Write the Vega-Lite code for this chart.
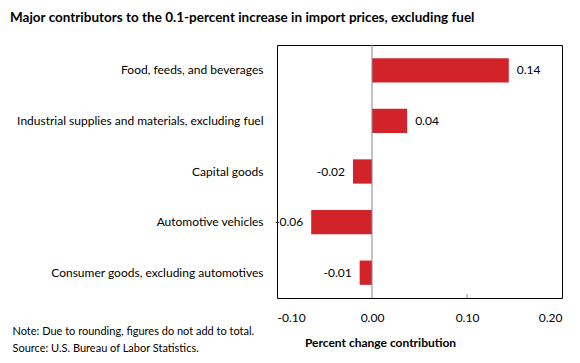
{
  "$schema": "https://vega.github.io/schema/vega-lite/v6.json",
  "width": 285,
  "height": 253,
  "autosize": "none",
  "padding": {"left": 277, "top": 45, "right": 18, "bottom": 65},
  "background": "white",
  "config": {
    "font": "Lato",
    "view": {"stroke": "black", "strokeWidth": 1},
    "locale": {
      "number": {"decimal": ".", "thousands": ",", "grouping": [3], "currency": ["$", ""], "minus": "-"}
    }
  },
  "title": {
    "text": "Major contributors to the 0.1-percent increase in import prices, excluding fuel",
    "anchor": "start",
    "frame": "group",
    "dx": -267,
    "offset": 20,
    "fontSize": 13.5,
    "fontWeight": "bold",
    "font": "Lato",
    "color": "black"
  },
  "data": {
    "values": [
      {"category": "Food, feeds, and beverages", "value": 0.144},
      {"category": "Industrial supplies and materials, excluding fuel", "value": 0.037},
      {"category": "Capital goods", "value": -0.02},
      {"category": "Automotive vehicles", "value": -0.064},
      {"category": "Consumer goods, excluding automotives", "value": -0.013}
    ]
  },
  "encoding": {
    "y": {
      "field": "category",
      "type": "nominal",
      "sort": null,
      "scale": {"paddingInner": 0.52, "paddingOuter": 0.26},
      "axis": {
        "domain": false,
        "ticks": false,
        "labelPadding": 14,
        "labelFontSize": 12,
        "labelColor": "black",
        "labelLimit": 300,
        "title": ["Note: Due to rounding, figures do not add to total.", "Source: U.S. Bureau of Labor Statistics."],
        "titleAngle": 0,
        "titleAlign": "left",
        "titleBaseline": "middle",
        "titleX": -265,
        "titleY": 286,
        "titleFontSize": 11,
        "titleFontWeight": "normal",
        "titleLineHeight": 17,
        "titleColor": "black"
      }
    }
  },
  "layer": [
    {
      "mark": {"type": "bar", "color": "#D2232A"},
      "encoding": {
        "x": {
          "field": "value",
          "type": "quantitative",
          "scale": {"domain": [-0.1, 0.2], "nice": false, "zero": false},
          "axis": {
            "values": [-0.1, 0, 0.1, 0.2],
            "format": ".2f",
            "grid": false,
            "domain": false,
            "ticks": false,
            "labelPadding": 14,
            "labelFontSize": 12,
            "labelColor": "black",
            "title": "Percent change contribution",
            "titleFontSize": 12,
            "titleFontWeight": "bold",
            "titleColor": "black",
            "titleX": 103,
            "titleY": 44,
            "titleBaseline": "middle"
          }
        }
      }
    },
    {
      "data": {"values": [{"zero": 0}]},
      "mark": {"type": "rule", "color": "#888888", "strokeWidth": 1},
      "encoding": {"x": {"field": "zero", "type": "quantitative"}, "y": {"value": 0}, "y2": {"value": 253}}
    },
    {
      "data": {"values": [{"tick": 0.1}]},
      "mark": {"type": "rule", "color": "#888888", "strokeWidth": 1},
      "encoding": {"x": {"field": "tick", "type": "quantitative"}, "y": {"value": 249}, "y2": {"value": 253}}
    },
    {
      "transform": [{"filter": "datum.value >= 0"}],
      "mark": {"type": "text", "align": "left", "baseline": "middle", "dx": 8, "fontSize": 12, "color": "black"},
      "encoding": {
        "x": {"field": "value", "type": "quantitative"},
        "text": {"field": "value", "type": "quantitative", "format": ".2f"}
      }
    },
    {
      "transform": [{"filter": "datum.value < 0"}],
      "mark": {"type": "text", "align": "right", "baseline": "middle", "dx": -8, "fontSize": 12, "color": "black"},
      "encoding": {
        "x": {"field": "value", "type": "quantitative"},
        "text": {"field": "value", "type": "quantitative", "format": ".2f"}
      }
    }
  ]
}
